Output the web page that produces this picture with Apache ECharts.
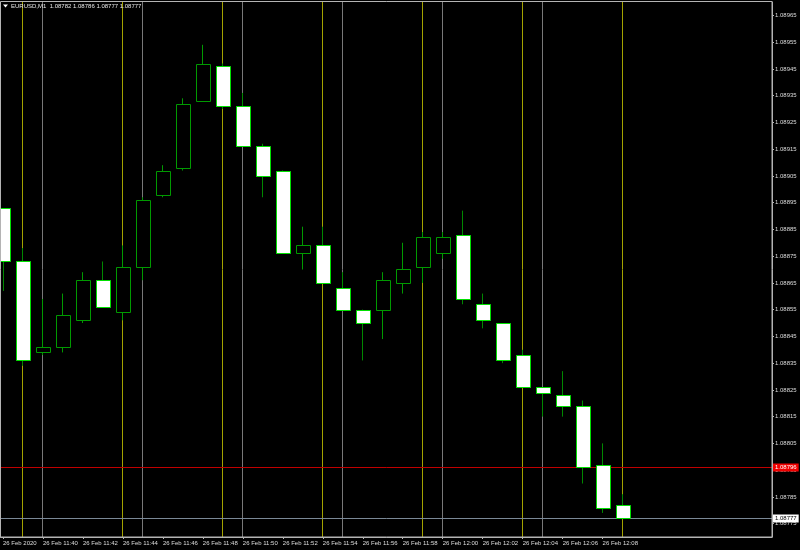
<!DOCTYPE html>
<html>
<head>
<meta charset="utf-8">
<script src="https://cdn.jsdelivr.net/npm/echarts@6/dist/echarts.min.js"></script>
<style>html,body{margin:0;padding:0;background:#000;}#c{width:800px;height:550px;}</style>
</head>
<body>
<div id="c"></div>
<script>
var symbolName = 'EURUSD,M1';
var dateLabel = '26 Feb 2020';
var times = ['11:38','11:39','11:40','11:41','11:42','11:43','11:44','11:45','11:46','11:47','11:48','11:49','11:50','11:51','11:52','11:53','11:54','11:55','11:56','11:57','11:58','11:59','12:00','12:01','12:02','12:03','12:04','12:05','12:06','12:07','12:08','12:09'];
var openV  = [1.08893,1.08873,1.08839,1.08841,1.08851,1.08866,1.08854,1.08871,1.08898,1.08908,1.08933,1.08946,1.08931,1.08916,1.08907,1.08876,1.08879,1.08863,1.08855,1.08855,1.08865,1.08871,1.08876,1.08883,1.08857,1.08850,1.08838,1.08826,1.08823,1.08819,1.08797,1.08782];
var highV  = [1.08893,1.08878,1.08859,1.08861,1.08869,1.08873,1.08879,1.08897,1.08909,1.08934,1.08954,1.08947,1.08936,1.08917,1.08907,1.08886,1.08886,1.08869,1.08855,1.08869,1.08880,1.08884,1.08884,1.08892,1.08861,1.08850,1.08840,1.08826,1.08832,1.08821,1.08805,1.08786];
var lowV   = [1.08862,1.08834,1.08838,1.08839,1.08850,1.08856,1.08851,1.08866,1.08897,1.08907,1.08933,1.08930,1.08916,1.08897,1.08876,1.08870,1.08865,1.08855,1.08836,1.08844,1.08861,1.08865,1.08874,1.08857,1.08848,1.08835,1.08826,1.08815,1.08815,1.08790,1.08779,1.08777];
var closeV = [1.08873,1.08836,1.08841,1.08853,1.08866,1.08856,1.08871,1.08896,1.08907,1.08932,1.08947,1.08931,1.08916,1.08905,1.08876,1.08879,1.08865,1.08855,1.08850,1.08866,1.08870,1.08882,1.08882,1.08859,1.08851,1.08836,1.08826,1.08824,1.08819,1.08796,1.08781,1.08777];
var yTicks = [1.08775,1.08785,1.08795,1.08805,1.08815,1.08825,1.08835,1.08845,1.08855,1.08865,1.08875,1.08885,1.08895,1.08905,1.08915,1.08925,1.08935,1.08945,1.08955,1.08965];
var xTickIdx = [0,2,4,6,8,10,12,14,16,18,20,22,24,26,28,30];
var yellowIdx = [1,6,11,16,21,26,31];
var grayIdx = [2,7,12,17,22,27];
var bidPrice = 1.08777;
var redPrice = 1.08796;

var data = times.map(function(t,i){ return [i, openV[i], closeV[i], lowV[i], highV[i]]; });
var last = times.length - 1;
var titleText = symbolName + '  ' + [openV[last], highV[last], lowV[last], closeV[last]].map(function(v){return v.toFixed(5);}).join(' ');
var fontFam = 'Liberation Sans, Arial, sans-serif';

var vLines = yellowIdx.map(function(i){ return [i, 0]; }).concat(grayIdx.map(function(i){ return [i, 1]; }));
var vColors = ['#a3a300', '#787878'];
var hLines = [[redPrice, 0], [bidPrice, 1]];
var hStyles = [
  {line:'#c00000', bg:'#f00000', fg:'#ffffff'},
  {line:'#7a8896', bg:'#ffffff', fg:'#000000'}
];

var chart = echarts.init(document.getElementById('c'), null, {renderer:'canvas'});
chart.setOption({
  backgroundColor: '#000',
  animation: false,
  title: {text: titleText, left: 11, top: 3, padding: 0, textStyle: {color:'#e6e6e6', fontSize: 6, fontWeight:'normal', fontFamily: fontFam}},
  graphic: [
    {type:'polygon', shape:{points:[[3,4.5],[8,4.5],[5.5,7.5]]}, style:{fill:'#fff'}},
    {type:'rect', shape:{x:0.5, y:1.5, width:771.5, height:535.5}, style:{fill:'none', stroke:'#b4b4b4', lineWidth:1}, z:10, silent:true}
  ],
  grid: {left: 0, right: 28, top: 2, bottom: 13, show:false},
  xAxis: {
    type: 'value', min: -0.125, max: 38.475,
    splitLine: {show:false},
    axisLine: {show:true, onZero:false, lineStyle:{color:'#b4b4b4'}},
    axisTick: {show:true, length:2, customValues: xTickIdx, lineStyle:{color:'#b4b4b4'}},
    axisLabel: {
      customValues: xTickIdx, align:'left', margin: 3, fontSize: 6, color:'#dcdcdc', fontFamily: fontFam,
      formatter: function(v){ var i = Math.round(v); return i === 0 ? dateLabel : '26 Feb ' + times[i]; }
    }
  },
  yAxis: {
    type: 'value', position: 'right', min: 1.0877, max: 1.0897,
    splitLine: {show:false},
    axisLine: {show:true, onZero:false, lineStyle:{color:'#b4b4b4'}},
    axisTick: {show:true, length:2, customValues: yTicks, lineStyle:{color:'#b4b4b4'}},
    axisLabel: {customValues: yTicks, margin: 3, fontSize: 6, color:'#dcdcdc', fontFamily: fontFam,
      formatter: function(v){ return v.toFixed(5); }}
  },
  series: [
    {
      type: 'custom', z: 1, silent: true, clip: true,
      data: vLines,
      encode: {x: 0},
      renderItem: function(params, api){
        var cs = params.coordSys;
        var p = api.coord([api.value(0), 1.088]);
        var x = Math.floor(p[0]) + 0.5;
        return {type:'line', shape:{x1:x, y1:cs.y, x2:x, y2:cs.y+cs.height}, style:{stroke: vColors[api.value(1)], lineWidth:1}};
      }
    },
    {
      type: 'custom', z: 2, silent: true, clip: false,
      data: hLines,
      encode: {y: 0},
      renderItem: function(params, api){
        var cs = params.coordSys;
        var price = api.value(0);
        var st = hStyles[api.value(1)];
        var p = api.coord([0, price]);
        var y = Math.round(p[1]) + 0.5;
        return {type:'group', children:[
          {type:'line', shape:{x1:cs.x, y1:y, x2:cs.x+cs.width, y2:y}, style:{stroke: st.line, lineWidth:1}},
          {type:'text', x: cs.x + cs.width + 1, y: y, z2: 10,
           style:{text: price.toFixed(5), fill: st.fg, backgroundColor: st.bg, padding:[1,2,1,2], fontSize:6, fontFamily: fontFam, verticalAlign:'middle', align:'left'}}
        ]};
      }
    },
    {
      type: 'custom', z: 5, clip: true,
      data: data,
      encode: {x: 0, y: [1,2,3,4]},
      renderItem: function(params, api){
        var x = api.value(0), o = api.value(1), c = api.value(2), l = api.value(3), h = api.value(4);
        var pO = api.coord([x,o]), pC = api.coord([x,c]), pL = api.coord([x,l]), pH = api.coord([x,h]);
        var bw = api.size([1,0])[0] * 0.7;
        var cx = Math.floor(pO[0]) + 0.5;
        var bull = c >= o;
        var top = Math.round(Math.min(pO[1], pC[1])) + 0.5;
        var bot = Math.round(Math.max(pO[1], pC[1])) + 0.5;
        if (bot - top < 1) bot = top + 1;
        var left = Math.round(pO[0] - bw/2) + 0.5;
        return {
          type: 'group',
          children: [
            {type:'line', shape:{x1:cx, y1:pH[1], x2:cx, y2:pL[1]}, style:{stroke: bull ? '#009a00' : '#008800', lineWidth:1}},
            {type:'rect', shape:{x:left, y:top, width:Math.round(bw), height:bot-top},
             style:{fill: bull ? '#000' : '#fff', stroke: bull ? '#009a00' : '#00e000', lineWidth:1}}
          ]
        };
      }
    }
  ]
});
</script>
</body>
</html>
